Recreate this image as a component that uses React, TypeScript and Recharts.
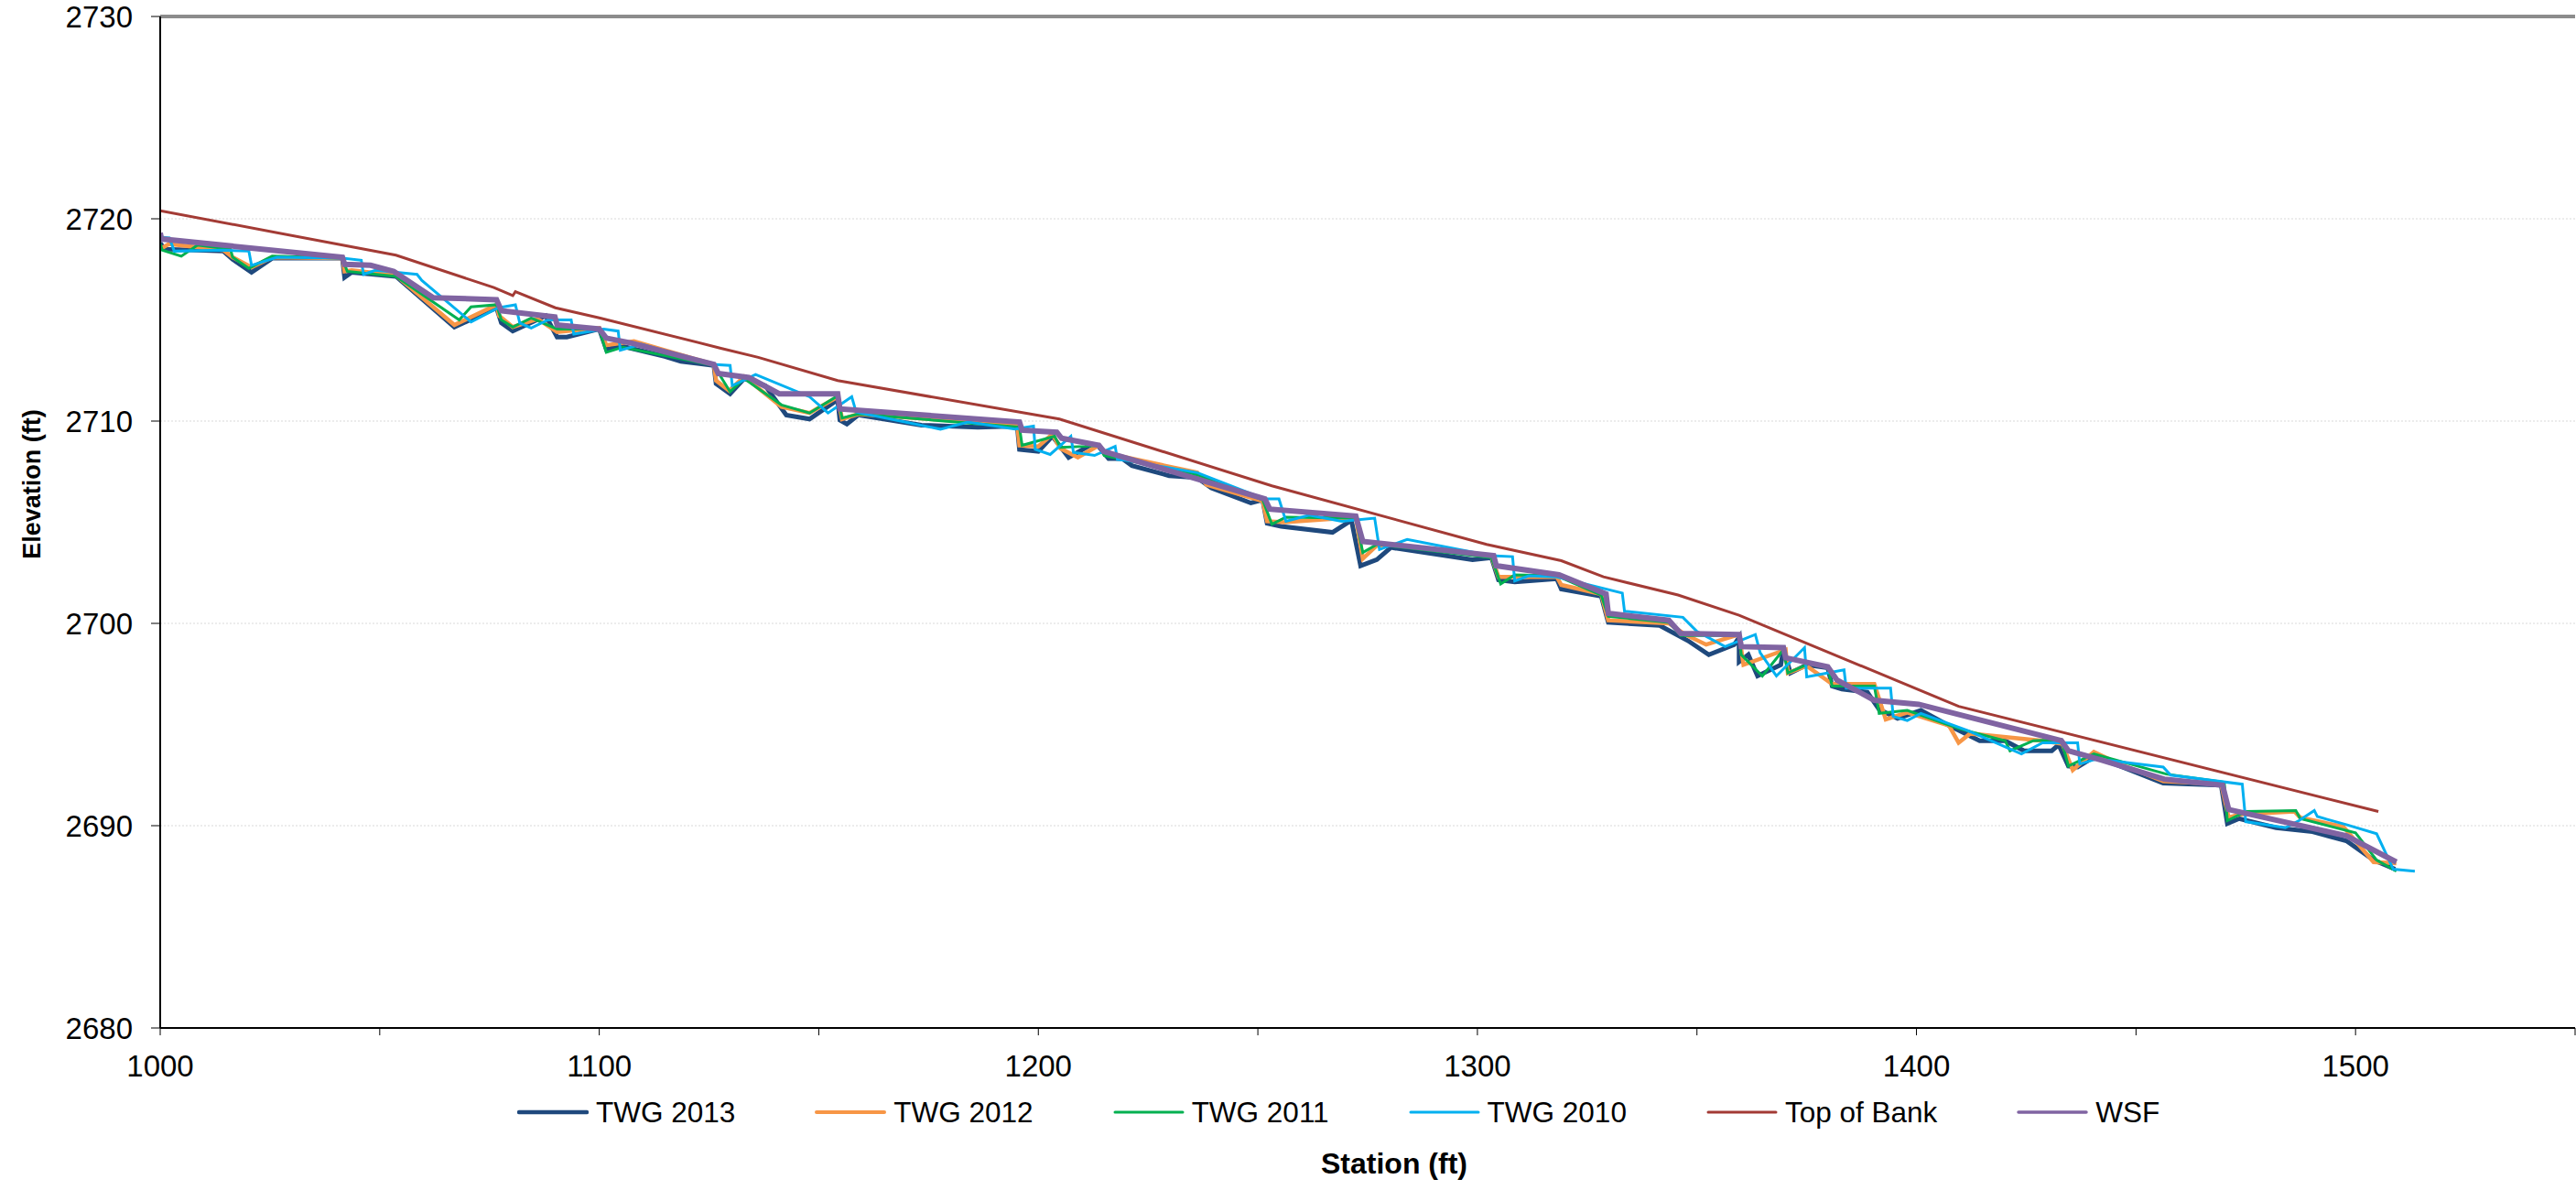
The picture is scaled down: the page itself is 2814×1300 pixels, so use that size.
import { LineChart, Line, XAxis, YAxis, CartesianGrid, Legend, ReferenceLine } from 'recharts';

const FONT = '"Liberation Sans", Arial, sans-serif';

const xTicks = [1000, 1050, 1100, 1150, 1200, 1250, 1300, 1350, 1400, 1450, 1500, 1550];
const yTicks = [2680, 2690, 2700, 2710, 2720, 2730];

const twg2013Station = [1000, 1001, 1014.4, 1016.5, 1020.8, 1025.5, 1041.5, 1042, 1043.6, 1053.7, 1067, 1076.6, 1077.7, 1080.3, 1087.8, 1090.4, 1092.6, 1100, 1101.6, 1105.3, 1114.9, 1118.6, 1126.1, 1126.6, 1129.8, 1133, 1137.8, 1142.6, 1147.9, 1154.3, 1154.8, 1156.4, 1159, 1173.4, 1186.2, 1195.2, 1195.7, 1200, 1203.2, 1206.9, 1212.2, 1213.5, 1216, 1219.1, 1221.3, 1229.8, 1236.2, 1239.4, 1248.4, 1251.1, 1252.1, 1255.3, 1267, 1271.3, 1273.4, 1277.1, 1280.3, 1298.9, 1303.2, 1304.8, 1308.5, 1318.1, 1319.1, 1328.2, 1329.8, 1341.5, 1347.9, 1352.7, 1358.5, 1359.6, 1359.6, 1361.7, 1363.8, 1369.1, 1369.7, 1371.3, 1375, 1379.8, 1380.8, 1383, 1388.8, 1391.5, 1395.7, 1401, 1407.4, 1414.4, 1420.2, 1424.5, 1430.8, 1432.4, 1434.6, 1436.7, 1440.4, 1445.7, 1456.2, 1469.4, 1470.8, 1473.5, 1481.9, 1490.2, 1497.9, 1504.1, 1509];
const twg2013Elev = [2718.8, 2718.5, 2718.4, 2718.0, 2717.35, 2718.05, 2718.05, 2717.1, 2717.35, 2717.15, 2714.65, 2715.6, 2714.85, 2714.45, 2715.2, 2714.15, 2714.15, 2714.55, 2713.55, 2713.7, 2713.2, 2712.95, 2712.75, 2711.85, 2711.35, 2712.1, 2711.75, 2710.3, 2710.1, 2711.05, 2710.05, 2709.85, 2710.3, 2709.8, 2709.7, 2709.75, 2708.6, 2708.5, 2709.25, 2708.2, 2708.85, 2708.8, 2708.15, 2708.15, 2707.8, 2707.3, 2707.2, 2706.7, 2705.95, 2706.1, 2704.95, 2704.8, 2704.5, 2705.1, 2702.85, 2703.15, 2703.75, 2703.15, 2703.25, 2702.15, 2702.05, 2702.2, 2701.7, 2701.35, 2700.05, 2699.9, 2699.15, 2698.45, 2698.95, 2699.3, 2698.1, 2698.45, 2697.4, 2697.95, 2698.7, 2697.55, 2697.95, 2697.8, 2696.9, 2696.75, 2696.6, 2695.75, 2695.3, 2695.7, 2694.95, 2694.2, 2694.2, 2693.7, 2693.7, 2694.0, 2692.95, 2692.9, 2693.4, 2693.0, 2692.1, 2692.0, 2690.1, 2690.35, 2689.9, 2689.7, 2689.25, 2688.3, 2687.85];

const twg2012Station = [1000, 1002, 1014.4, 1016.5, 1020.8, 1025.5, 1041.5, 1042, 1043.6, 1053.7, 1067, 1076.6, 1077.2, 1080.3, 1086, 1090.4, 1100, 1101.6, 1107.9, 1126.1, 1126.6, 1129.6, 1133, 1141.5, 1147.9, 1154.3, 1155.3, 1159, 1195.2, 1195.7, 1200, 1203.2, 1205, 1209, 1213.8, 1215, 1219.1, 1236.2, 1238.3, 1251.1, 1252.1, 1256, 1272.3, 1273.9, 1277.1, 1280.3, 1303.2, 1304.8, 1308.5, 1318.1, 1319.1, 1328.2, 1329.8, 1343.6, 1347.3, 1352.1, 1359.6, 1360.6, 1370.2, 1370.7, 1375, 1380.8, 1390.4, 1393, 1397.9, 1407.4, 1409.6, 1412.2, 1428.7, 1433.2, 1435.6, 1440.4, 1445.7, 1456.2, 1469.4, 1471.1, 1473.5, 1486.1, 1487.4, 1497.2, 1504.1, 1509.3];
const twg2012Elev = [2718.5, 2718.75, 2718.45, 2718.1, 2717.6, 2718.1, 2718.05, 2717.4, 2717.45, 2717.2, 2714.75, 2715.75, 2715.2, 2714.65, 2715.05, 2714.4, 2714.6, 2713.75, 2713.95, 2712.8, 2712.0, 2711.5, 2712.2, 2710.7, 2710.4, 2711.2, 2710.1, 2710.35, 2709.8, 2708.8, 2708.75, 2709.35, 2708.65, 2708.2, 2708.8, 2708.45, 2708.25, 2707.45, 2706.85, 2706.05, 2705.05, 2705.0, 2705.25, 2703.2, 2703.85, 2703.9, 2703.3, 2702.3, 2702.3, 2702.3, 2701.9, 2701.45, 2700.15, 2700.0, 2699.45, 2698.95, 2699.45, 2697.95, 2698.7, 2697.55, 2697.9, 2697.0, 2697.0, 2695.25, 2695.6, 2694.95, 2694.1, 2694.55, 2694.2, 2694.05, 2692.75, 2693.65, 2693.1, 2692.2, 2692.05, 2690.4, 2690.55, 2690.7, 2690.4, 2689.95, 2688.2, 2688.15];

const twg2011Station = [1000, 1000.5, 1004.8, 1008.5, 1016, 1016.5, 1020.2, 1025.5, 1041.5, 1042.6, 1053.7, 1068.1, 1070.8, 1076.6, 1077.7, 1080.3, 1084.5, 1090.4, 1100, 1101.6, 1105.3, 1126.1, 1129.8, 1133, 1141.5, 1147.9, 1154.3, 1155.3, 1159, 1195.7, 1196.3, 1203.7, 1205, 1210.6, 1213.8, 1215, 1236.2, 1251.1, 1253.2, 1256.4, 1272.3, 1273.9, 1277.1, 1303.2, 1305.3, 1308.5, 1318.1, 1328.2, 1329.8, 1343.6, 1346.3, 1359.6, 1360.1, 1364.9, 1369.7, 1370.7, 1375.5, 1379.8, 1380.8, 1390.4, 1391.5, 1397.9, 1409.6, 1420.2, 1421.3, 1426.6, 1433, 1434.6, 1440.4, 1456.9, 1470.1, 1470.8, 1475, 1486.4, 1487.4, 1500, 1504.8, 1509.3];
const twg2011Elev = [2718.75, 2718.45, 2718.15, 2718.7, 2718.5, 2718.1, 2717.55, 2718.15, 2718.05, 2717.4, 2717.15, 2715.0, 2715.65, 2715.75, 2715.0, 2714.65, 2715.1, 2714.55, 2714.55, 2713.4, 2713.65, 2712.75, 2711.45, 2712.1, 2710.8, 2710.4, 2711.25, 2710.15, 2710.35, 2709.7, 2708.8, 2709.25, 2708.7, 2708.75, 2708.8, 2708.3, 2707.35, 2706.1, 2704.9, 2705.25, 2705.2, 2703.5, 2703.9, 2703.25, 2701.95, 2702.4, 2702.35, 2701.4, 2700.35, 2700.05, 2699.4, 2699.4, 2698.45, 2697.4, 2698.7, 2697.55, 2698.0, 2697.8, 2696.9, 2696.9, 2695.55, 2695.7, 2694.8, 2694.2, 2693.7, 2694.2, 2694.25, 2692.95, 2693.55, 2692.55, 2692.15, 2690.25, 2690.7, 2690.75, 2690.35, 2689.65, 2688.3, 2687.75];

const twg2010Station = [1000, 1002.1, 1003.2, 1014.4, 1020.2, 1020.8, 1026.6, 1041.5, 1045.8, 1046.3, 1049, 1058.5, 1059.6, 1070.8, 1077, 1080.9, 1081.9, 1084.5, 1088.3, 1093.6, 1094.2, 1101, 1104.3, 1104.8, 1109.6, 1125.6, 1129.8, 1130.3, 1135.6, 1147.9, 1152.1, 1157.5, 1158.5, 1159.6, 1177.7, 1184, 1194.7, 1198.9, 1199.3, 1202.7, 1207.4, 1208, 1212.8, 1217.5, 1218, 1220.2, 1236.2, 1251.6, 1254.8, 1256.4, 1261.7, 1269.1, 1276.6, 1277.7, 1284, 1303, 1308, 1308.5, 1311.7, 1318.1, 1333, 1333.5, 1346.8, 1350, 1356.4, 1363.3, 1364.4, 1368.1, 1374.5, 1375, 1383.5, 1384, 1394.1, 1394.7, 1397.9, 1401, 1411.7, 1423.9, 1428.7, 1436.7, 1437.2, 1441, 1456.2, 1457.9, 1474.2, 1475, 1484, 1487.1, 1490.6, 1491.3, 1497.9, 1504.8, 1508.6, 1513.5];
const twg2010Elev = [2719.1, 2719.05, 2718.4, 2718.45, 2718.4, 2717.7, 2718.1, 2718.05, 2717.95, 2717.25, 2717.45, 2717.25, 2716.95, 2714.9, 2715.6, 2715.75, 2714.85, 2714.6, 2715.0, 2715.0, 2714.3, 2714.55, 2714.45, 2713.5, 2713.8, 2712.8, 2712.75, 2711.75, 2712.3, 2711.2, 2710.4, 2711.2, 2710.45, 2710.4, 2709.6, 2709.95, 2709.6, 2709.75, 2708.6, 2708.35, 2709.25, 2708.45, 2708.3, 2708.75, 2708.1, 2708.05, 2707.45, 2706.15, 2706.15, 2705.05, 2705.35, 2705.05, 2705.2, 2703.65, 2704.15, 2703.35, 2703.3, 2702.1, 2702.35, 2702.3, 2701.5, 2700.6, 2700.3, 2699.6, 2698.85, 2699.45, 2698.55, 2697.4, 2698.8, 2697.35, 2697.7, 2696.8, 2696.8, 2695.4, 2695.2, 2695.55, 2694.7, 2693.55, 2694.1, 2694.1, 2693.05, 2693.3, 2692.9, 2692.5, 2692.05, 2690.2, 2689.9, 2690.25, 2690.75, 2690.45, 2690.05, 2689.6, 2687.85, 2687.75];

const bankStation = [1000, 1053.7, 1076, 1080.3, 1080.9, 1090, 1100, 1127.7, 1136.2, 1154.3, 1204.8, 1253.2, 1302.1, 1319.1, 1328.7, 1345.7, 1359.6, 1409.6, 1505.2];
const bankElev = [2720.4, 2718.2, 2716.6, 2716.2, 2716.4, 2715.6, 2715.1, 2713.6, 2713.15, 2712.0, 2710.1, 2706.8, 2703.9, 2703.1, 2702.3, 2701.4, 2700.4, 2695.9, 2690.7];

const wsfStation = [1000, 1000.3, 1041.5, 1042, 1047.9, 1053.2, 1062.2, 1076.6, 1077.7, 1089.9, 1090.4, 1100, 1101.6, 1107.4, 1126.1, 1127.1, 1134.1, 1141, 1154.3, 1154.8, 1195.7, 1196.3, 1204.2, 1205.3, 1213.8, 1214.9, 1251.6, 1252.7, 1272.3, 1273.9, 1303.7, 1304.3, 1318.6, 1329.3, 1329.8, 1343.6, 1346.3, 1359.6, 1360.1, 1369.7, 1370.2, 1379.8, 1381.9, 1390.4, 1400.5, 1433, 1434.6, 1442, 1456.4, 1469.7, 1471.1, 1497.9, 1509.3];
const wsfElev = [2719.3, 2719.0, 2718.1, 2717.75, 2717.7, 2717.4, 2716.1, 2716.0, 2715.45, 2715.15, 2714.75, 2714.55, 2714.1, 2713.85, 2712.8, 2712.35, 2712.15, 2711.35, 2711.35, 2710.6, 2709.95, 2709.55, 2709.45, 2709.15, 2708.8, 2708.5, 2706.15, 2705.65, 2705.3, 2704.05, 2703.35, 2702.85, 2702.4, 2701.45, 2700.5, 2700.15, 2699.5, 2699.45, 2698.85, 2698.8, 2698.3, 2697.85, 2697.2, 2696.2, 2696.0, 2694.2, 2693.7, 2693.25, 2692.3, 2692.0, 2690.8, 2689.5, 2688.2];

const toPoints = (xs: number[], ys: number[]) => xs.map((x, i) => ({ station: x, elev: ys[i] }));

const SERIES = [
  { name: 'TWG 2013', color: '#1F497D', width: 5, legendWidth: 4.5, data: toPoints(twg2013Station, twg2013Elev) },
  { name: 'TWG 2012', color: '#F79646', width: 4.5, legendWidth: 4, data: toPoints(twg2012Station, twg2012Elev) },
  { name: 'TWG 2011', color: '#00B050', width: 3, legendWidth: 3, data: toPoints(twg2011Station, twg2011Elev) },
  { name: 'TWG 2010', color: '#00B0F0', width: 3, legendWidth: 3, data: toPoints(twg2010Station, twg2010Elev) },
  { name: 'Top of Bank', color: '#A33B35', width: 3, legendWidth: 3, data: toPoints(bankStation, bankElev) },
  { name: 'WSF', color: '#8064A2', width: 6, legendWidth: 3.5, data: toPoints(wsfStation, wsfElev) },
];

const renderLegend = () => (
  <div style={{ display: 'flex', alignItems: 'center', fontFamily: FONT, fontSize: 31.5, color: '#000', lineHeight: '40px' }}>
    {SERIES.map((s) => (
      <div key={s.name} style={{ display: 'flex', alignItems: 'center', marginRight: 87 }}>
        <svg width={78} height={10} style={{ marginRight: 8 }}>
          <line x1={2} y1={5} x2={76} y2={5} stroke={s.color} strokeWidth={s.legendWidth} strokeLinecap="round" />
        </svg>
        <span style={{ whiteSpace: 'nowrap' }}>{s.name}</span>
      </div>
    ))}
  </div>
);

export default function App() {
  return (
    <div>
      <style>{'body{margin:0;overflow:hidden}'}</style>
      <LineChart width={2814} height={1300} margin={{ top: 18, right: 1, left: 0, bottom: 0 }}>
        <CartesianGrid vertical={false} stroke="#d9d9d9" strokeDasharray="2 2" />
        <XAxis
          type="number"
          dataKey="station"
          domain={[1000, 1550]}
          ticks={xTicks}
          allowDataOverflow
          height={177}
          tickSize={8}
          tickMargin={22}
          tickFormatter={(v: number) => (v % 100 === 0 ? String(v) : '')}
          tick={{ fill: '#000', fontSize: 33, fontFamily: FONT }}
          axisLine={{ stroke: '#000', strokeWidth: 2 }}
          tickLine={{ stroke: '#000', strokeWidth: 1 }}
          label={{
            content: () => (
              <text x={1523} y={1271} textAnchor="middle" dominantBaseline="central" fontFamily={FONT} fontSize={32} fontWeight="bold" fill="#000">
                Station (ft)
              </text>
            ),
          }}
        />
        <YAxis
          type="number"
          dataKey="elev"
          domain={[2680, 2730]}
          ticks={yTicks}
          allowDataOverflow
          width={175}
          tickSize={10}
          tickMargin={20}
          tick={{ fill: '#000', fontSize: 33, fontFamily: FONT }}
          axisLine={{ stroke: '#000', strokeWidth: 2 }}
          tickLine={{ stroke: '#000', strokeWidth: 1 }}
          label={{
            content: () => (
              <text x={35} y={529} transform="rotate(-90 35 529)" textAnchor="middle" dominantBaseline="central" fontFamily={FONT} fontSize={27} fontWeight="bold" fill="#000">
                Elevation (ft)
              </text>
            ),
          }}
        />
        <ReferenceLine y={2730} stroke="#8c8c8c" strokeWidth={4} />
        {SERIES.map((s) => (
          <Line
            key={s.name}
            data={s.data}
            dataKey="elev"
            name={s.name}
            stroke={s.color}
            strokeWidth={s.width}
            strokeLinejoin="miter"
            dot={false}
            activeDot={false}
            isAnimationActive={false}
          />
        ))}
        <Legend
          layout="horizontal"
          verticalAlign="middle"
          align="center"
          content={renderLegend}
          wrapperStyle={{ left: 565, top: 1195, width: 2000 }}
        />
      </LineChart>
    </div>
  );
}
